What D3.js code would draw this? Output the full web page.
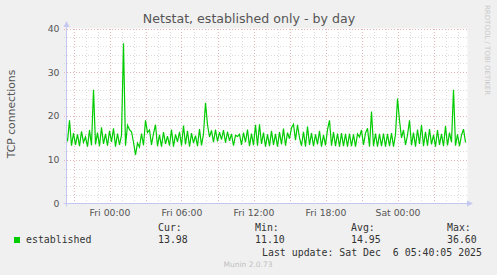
<!DOCTYPE html>
<html>
<head>
<meta charset="utf-8">
<script src="https://cdn.jsdelivr.net/npm/d3@7"></script>
<style>
  body { margin: 0; background: #f0f0f0; }
  svg { display: block; }
  text { font-family: "DejaVu Sans", sans-serif; fill: #555; }
  .mono { font-family: "DejaVu Sans Mono", monospace; fill: #333; }
</style>
</head>
<body>
<div id="chart"></div>
<script>
// chart size
var chart_width = 497;
var chart_height = 275;

// data: established connections, one sample every 10 minutes
// from Thu 20:30 to Sat 05:40
var start_time = Date.UTC(2025, 11, 4, 20, 30);
var step_minutes = 10;
var established = [
  14.2, 19.0, 13.2, 16.1, 13.4, 15.8, 13.1, 16.5, 14.0, 15.2,
  13.0, 16.8, 13.3, 26.0, 13.5, 16.2, 13.1, 17.4, 13.6, 15.9,
  13.2, 16.6, 14.1, 17.2, 13.0, 16.0, 13.4, 15.6, 36.6, 13.2,
  17.9, 16.9, 16.4, 14.0, 11.1, 13.8, 12.9, 16.0, 13.3, 19.0,
  16.2, 16.8, 13.4, 16.0, 18.0, 13.1, 15.7, 13.0, 16.3, 13.6,
  15.4, 13.2, 16.9, 13.0, 15.8, 14.1, 16.4, 13.2, 17.8, 13.5,
  16.6, 13.0, 16.1, 13.8, 15.5, 13.1, 17.0, 13.3, 15.9, 23.0,
  18.0, 15.2, 16.7, 14.0, 16.9, 14.2, 16.3, 14.6, 16.8, 13.9,
  16.4, 14.3, 15.9, 13.2, 15.6, 15.3, 15.8, 13.4, 16.2, 14.0,
  16.9, 13.1, 16.0, 13.3, 18.0, 13.2, 18.1, 13.6, 16.2, 13.0,
  15.8, 13.1, 16.6, 13.4, 15.9, 13.0, 16.3, 13.5, 17.1, 13.2,
  16.2, 14.8, 17.3, 18.1, 14.5, 18.0, 15.0, 13.2, 16.4, 13.0,
  17.6, 13.4, 16.1, 13.1, 15.8, 13.5, 16.6, 13.0, 15.7, 13.3,
  16.9, 19.0, 13.2, 16.3, 13.1, 16.0, 13.0, 16.1, 13.1, 15.9,
  13.0, 16.0, 13.1, 15.8, 13.0, 15.9, 15.2, 16.8, 13.4, 16.1,
  17.2, 13.0, 21.0, 13.1, 16.0, 13.0, 15.9, 13.1, 16.0, 13.0,
  15.9, 13.1, 16.1, 13.0, 15.8, 24.0, 19.0, 15.0, 16.8, 13.4,
  15.6, 19.0, 13.3, 16.2, 13.0, 16.9, 13.6, 18.0, 13.1, 16.4,
  13.2, 17.0, 13.5, 15.7, 13.0, 16.8, 13.4, 15.9, 13.1, 17.7,
  13.3, 16.2, 14.0, 26.0, 13.2, 15.8, 13.1, 15.6, 17.0, 13.98
];
var y_ticks = [0, 10, 20, 30, 40];
var legend_names = ['established'];
var stat_labels = ['Cur:', 'Min:', 'Avg:', 'Max:'];
var stat_values = ['13.98', '11.10', '14.95', '36.60'];
var last_update = 'Last update: Sat Dec  6 05:40:05 2025';

var points = established.map(function(v, i){
    return { t: new Date(start_time + i * step_minutes * 60000), v: v };
});

// scales
var x = d3.scaleUtc()
    .domain([new Date(Date.UTC(2025, 11, 4, 20, 25)), new Date(Date.UTC(2025, 11, 6, 5, 45))])
    .range([66.5, 466.5]);
var y = d3.scaleLinear()
    .domain([0, 40])
    .range([203.5, 28.5]);

var svg = d3.select('#chart')
    .append('svg')
    .attr('width', chart_width)
    .attr('height', chart_height);

svg.append('rect')
    .attr('width', chart_width)
    .attr('height', chart_height)
    .attr('fill', '#f0f0f0');

// plot background
svg.append('rect')
    .attr('x', x.range()[0])
    .attr('y', y.range()[1])
    .attr('width', x.range()[1] - x.range()[0] + 1)
    .attr('height', y.range()[0] - y.range()[1])
    .attr('fill', '#fff');

var grid = svg.append('g').attr('shape-rendering', 'crispEdges');
var hours = x.ticks(d3.utcHour.every(1));

// vertical grid, every hour, red every 3 hours
grid.selectAll('line.vx')
    .data(hours)
    .enter()
    .append('line')
    .attr('x1', function(d){ return Math.round(x(d)) + 0.5; })
    .attr('x2', function(d){ return Math.round(x(d)) + 0.5; })
    .attr('y1', y.range()[1])
    .attr('y2', y.range()[0] + 2)
    .attr('stroke', function(d){ return d.getUTCHours() % 3 === 0 ? '#e6b4b4' : '#dcdcdc'; })
    .attr('stroke-dasharray', '1,2');

// horizontal grid, every 2, red every 10
grid.selectAll('line.hy')
    .data(d3.range(2, 41, 2))
    .enter()
    .append('line')
    .attr('x1', x.range()[0] - 3)
    .attr('x2', x.range()[1] + 1)
    .attr('y1', function(d){ return Math.round(y(d)) + 0.5; })
    .attr('y2', function(d){ return Math.round(y(d)) + 0.5; })
    .attr('stroke', function(d){ return d % 10 === 0 ? '#e6b4b4' : '#dcdcdc'; })
    .attr('stroke-dasharray', '1,2');

// data line
var line = d3.line()
    .x(function(d){ return x(d.t); })
    .y(function(d){ return y(d.v); });

svg.append('path')
    .datum(points)
    .attr('d', line)
    .attr('fill', 'none')
    .attr('stroke', '#00cc00')
    .attr('stroke-width', 1.2);

// axes lines with arrows
var axis_color = '#c4c8f0';
svg.append('line')
    .attr('x1', x.range()[0]).attr('x2', x.range()[0])
    .attr('y1', y.range()[0] + 3).attr('y2', 24)
    .attr('stroke', axis_color);
svg.append('path')
    .attr('d', 'M' + (x.range()[0] - 3) + ',27 L' + x.range()[0] + ',21 L' + (x.range()[0] + 3) + ',27 Z')
    .attr('fill', axis_color);
svg.append('line')
    .attr('x1', x.range()[0] - 3).attr('x2', 470)
    .attr('y1', y.range()[0]).attr('y2', y.range()[0])
    .attr('stroke', axis_color);
svg.append('path')
    .attr('d', 'M467,' + (y.range()[0] - 3) + ' L473,' + y.range()[0] + ' L467,' + (y.range()[0] + 3) + ' Z')
    .attr('fill', axis_color);

// y axis
var y_axis = d3.axisLeft(y)
    .tickValues(y_ticks)
    .tickSize(0)
    .tickPadding(7);
svg.append('g')
    .attr('transform', 'translate(' + x.range()[0] + ',0)')
    .call(y_axis)
    .call(function(g){ g.select('.domain').remove(); })
    .selectAll('text')
    .attr('font-family', 'DejaVu Sans')
    .attr('font-size', '9.3px')
    .attr('fill', '#555');

// x axis
var x_axis = d3.axisBottom(x)
    .ticks(d3.utcHour.every(6))
    .tickFormat(d3.utcFormat('%a %H:%M'))
    .tickSize(0)
    .tickPadding(6);
svg.append('g')
    .attr('transform', 'translate(0,' + y.range()[0] + ')')
    .call(x_axis)
    .call(function(g){ g.select('.domain').remove(); })
    .selectAll('text')
    .attr('font-family', 'DejaVu Sans')
    .attr('font-size', '9.3px')
    .attr('fill', '#555');

// title
svg.append('text')
    .attr('x', 249)
    .attr('y', 23)
    .attr('text-anchor', 'middle')
    .attr('font-size', '12.6px')
    .text('Netstat, established only - by day');

// y label
svg.append('text')
    .attr('transform', 'translate(15,114) rotate(-90)')
    .attr('text-anchor', 'middle')
    .attr('font-size', '10.8px')
    .text('TCP connections');

// watermark
svg.append('text')
    .attr('transform', 'translate(485,5) rotate(90)')
    .attr('font-size', '7px')
    .style('fill', '#c8c8c8')
    .text('RRDTOOL / TOBI OETIKER');

// legend
svg.append('rect')
    .attr('x', 14).attr('y', 237)
    .attr('width', 6).attr('height', 6)
    .attr('fill', '#00cc00');
svg.append('text')
    .attr('class', 'mono')
    .attr('x', 26).attr('y', 243)
    .attr('font-size', '9.9px')
    .text(legend_names[0]);

var stat_x = [158, 255, 351, 447];
svg.selectAll('text.statlabel')
    .data(stat_labels)
    .enter()
    .append('text')
    .attr('class', 'mono')
    .attr('x', function(d, i){ return stat_x[i]; })
    .attr('y', 231)
    .attr('font-size', '9.9px')
    .text(function(d){ return d; });
svg.selectAll('text.statvalue')
    .data(stat_values)
    .enter()
    .append('text')
    .attr('class', 'mono')
    .attr('x', function(d, i){ return stat_x[i]; })
    .attr('y', 243)
    .attr('font-size', '9.9px')
    .text(function(d){ return d; });

svg.append('text')
    .attr('class', 'mono')
    .attr('x', 482)
    .attr('y', 255.5)
    .attr('text-anchor', 'end')
    .attr('font-size', '9.9px')
    .style('white-space', 'pre')
    .attr('xml:space', 'preserve')
    .text(last_update);

svg.append('text')
    .attr('x', 248)
    .attr('y', 267)
    .attr('text-anchor', 'middle')
    .attr('font-size', '7.5px')
    .style('fill', '#c0c0c0')
    .text('Munin 2.0.73');
</script>
</body>
</html>
